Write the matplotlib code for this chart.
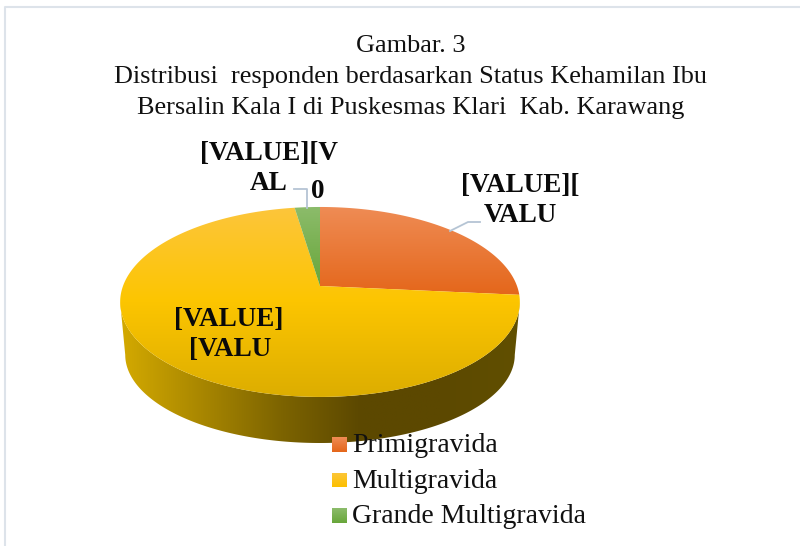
import numpy as np
import matplotlib
matplotlib.use('Agg')
import matplotlib.pyplot as plt
from matplotlib.colors import LinearSegmentedColormap
from matplotlib.patches import Polygon

categories = ['Primigravida', 'Multigravida', 'Grande Multigravida']
values = [26.5, 71.1, 2.4]
title_lines = ['Gambar. 3',
               'Distribusi  responden berdasarkan Status Kehamilan Ibu',
               'Bersalin Kala I di Puskesmas Klari  Kab. Karawang']
top_colors = [('#ef8c55', '#e4661a'), ('#fdc63c', '#dcad00'), ('#8cbc6b', '#68a63a')]

plt.rcParams['font.family'] = ['Liberation Serif', 'DejaVu Serif']
fig = plt.figure(figsize=(8, 5.46), dpi=100)
ax = fig.add_axes([0, 0, 1, 1])


def project(theta, cy=286, b=197, a=92.3, k=0.168):
    # clockwise angle from the top of the pie, with a bit of perspective
    u, v = np.sin(theta), np.cos(theta)
    w = 1 + k * v
    return 320 + b * u / w, cy - a * v / w


def gradient(colors, extent, clip, horizontal=False, zorder=2):
    cmap = LinearSegmentedColormap.from_list('g', colors)
    g = np.linspace(0, 1, 256)
    g = g[None, :] if horizontal else g[:, None]
    im = ax.imshow(g, cmap=cmap, extent=extent, aspect='auto', zorder=zorder)
    im.set_clip_path(Polygon(clip, transform=ax.transData))


# side wall of the pie, between the widest points of both rims
t = np.linspace(1.74, 2 * np.pi - 1.74, 200)
xt, yt = project(t)
xb, yb = project(t, cy=340, b=192, a=85.7)
wall = np.vstack([np.c_[xt, yt], np.c_[xb, yb][::-1]])
gradient(['#d4aa00', '#a98700', '#7d6400', '#5c4800', '#5c4800', '#615000'],
         (120, 521, 450, 290), wall, horizontal=True, zorder=1)

# top of the pie
edges = np.r_[0, np.cumsum(values)] / np.sum(values) * 2 * np.pi
for i, c in enumerate(top_colors):
    t = np.linspace(edges[i], edges[i + 1], 200)
    x, y = project(t)
    pts = np.vstack([[320, 286], np.c_[x, y]])
    if i == 1:
        gradient([c[0], '#fcc500', c[1]], (120, 521, 398, 206), pts)
    elif i == 0:
        gradient(c, (120, 521, 296, 206), pts)
    else:
        gradient(c, (120, 521, 286, 206), pts)

# leader lines
ax.plot([294, 307, 307], [189, 189, 208], color='#b5c4d4', lw=1.3, zorder=3)
ax.plot([450, 468, 480], [231, 222, 222], color='#b5c4d4', lw=1.3, zorder=3)

# data labels, placeholders as in the original
label_font = dict(fontsize=19.5, fontweight='bold', ha='center', va='center', color='#0a0a0a', zorder=5)
ax.text(269, 154, '[VALUE][V', **label_font)
ax.text(269, 183, 'AL', **label_font)
ax.text(318, 191, '0', **label_font)
ax.text(520, 185, '[VALUE][', **label_font)
ax.text(520, 215, 'VALU', **label_font)
ax.text(229, 320, '[VALUE]', **label_font)
ax.text(230, 350, '[VALU', **label_font)

# title
for line, y in zip(title_lines, [46, 77, 108]):
    ax.text(411, y, line, fontsize=18.9, ha='center', va='center', color='#111111')

# legend
for name, c, y in zip(categories, [top_colors[0], ('#fdc63c', '#fcc000'), top_colors[2]], [444.5, 480, 515.5]):
    box = [(332, y - 7.5), (347, y - 7.5), (347, y + 7.5), (332, y + 7.5)]
    gradient(c, (332, 347, y + 7.5, y - 7.5), box, zorder=6)
    ax.text(352, y + 1, name, fontsize=20, ha='left', va='center', color='#111111', zorder=6)

# chart frame
ax.plot([5, 5, 800], [546, 7, 7], color='#dde3ea', lw=1.5, zorder=0)

ax.set_xlim(0, 800)
ax.set_ylim(546, 0)
ax.axis('off')
fig.savefig('out.png', dpi=100)
